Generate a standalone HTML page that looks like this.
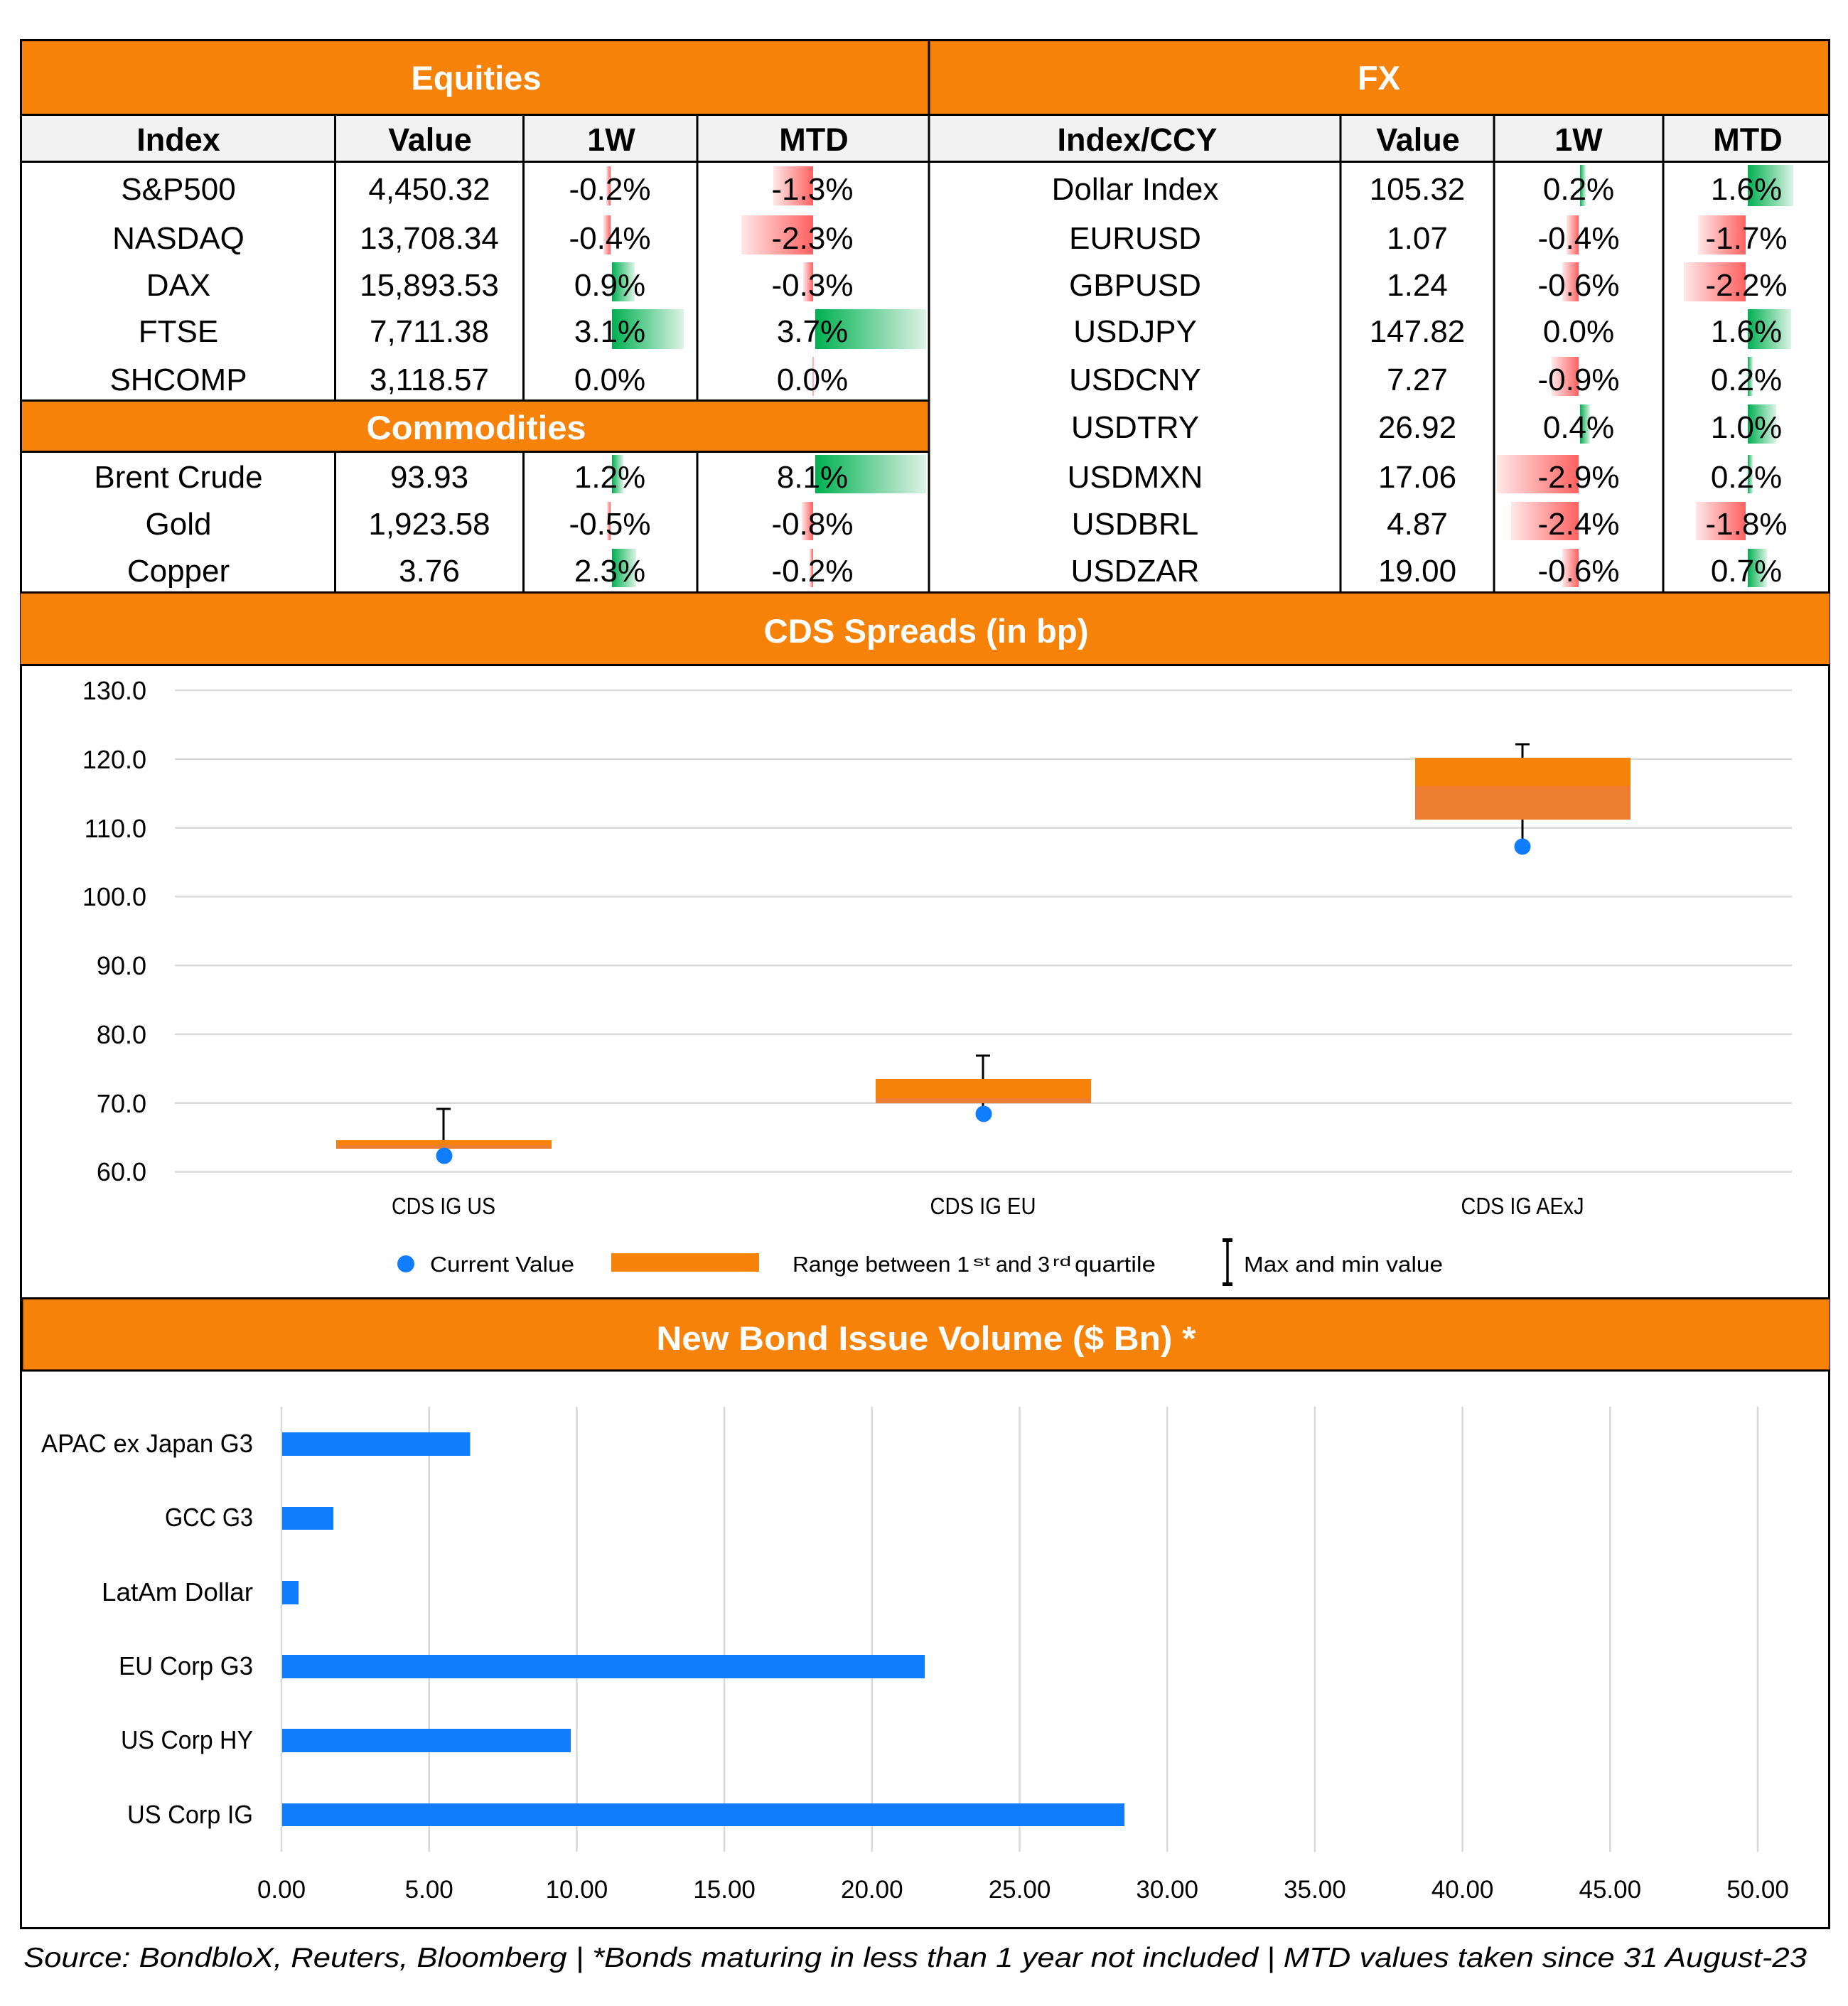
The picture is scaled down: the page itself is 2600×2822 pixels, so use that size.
<!DOCTYPE html>
<html>
<head>
<meta charset="utf-8">
<style>
  html,body{margin:0;padding:0;background:#fff;}
  svg{display:block;}
</style>
</head>
<body>
<svg xmlns="http://www.w3.org/2000/svg" width="2600" height="2822" viewBox="0 0 2600 2822">
  <defs>
    <linearGradient id="gp" x1="0" y1="0" x2="1" y2="0">
      <stop offset="0" stop-color="#00B050"/>
      <stop offset="1" stop-color="#DDF3E6"/>
    </linearGradient>
    <linearGradient id="gn" x1="0" y1="0" x2="1" y2="0">
      <stop offset="0" stop-color="#FFE8E8"/>
      <stop offset="1" stop-color="#FF6161"/>
    </linearGradient>
  </defs>
  <rect x="0" y="0" width="2600" height="2822" fill="#fff"/>

  <g font-family="'Liberation Sans', Arial, sans-serif">

  <!-- ===== TABLE BACKGROUNDS ===== -->
  <rect x="29" y="57" width="2545" height="104" fill="#F7820A"/>
  <rect x="29" y="162" width="2545" height="65" fill="#F2F2F2"/>
  <rect x="29" y="564" width="1278" height="71" fill="#F7820A"/>

  <!-- ===== DATA BARS ===== -->
  <!-- Equities 1W (rows baselines 281,350,416,481,549) -->
  <rect x="853" y="234" width="6" height="55" fill="url(#gn)"/>
  <rect x="849" y="303" width="10" height="55" fill="url(#gn)"/>
  <rect x="861" y="369" width="32" height="55" fill="url(#gp)"/>
  <rect x="861" y="435" width="101" height="56" fill="url(#gp)"/>
  <!-- Equities MTD -->
  <rect x="1088" y="234" width="56" height="55" fill="url(#gn)"/>
  <rect x="1043" y="303" width="101" height="55" fill="url(#gn)"/>
  <rect x="1130" y="369" width="14" height="55" fill="url(#gn)"/>
  <rect x="1147" y="435" width="156" height="56" fill="url(#gp)"/>
  <rect x="1143" y="502" width="2" height="55" fill="#FFB0B0"/>
  <!-- Commodities 1W (baselines 686,752,818) -->
  <rect x="861" y="640" width="16" height="54" fill="url(#gp)"/>
  <rect x="854" y="706" width="5" height="54" fill="url(#gn)"/>
  <rect x="861" y="772" width="34" height="54" fill="url(#gp)"/>
  <!-- Commodities MTD -->
  <rect x="1147" y="640" width="156" height="54" fill="url(#gp)"/>
  <rect x="1128" y="706" width="16" height="54" fill="url(#gn)"/>
  <rect x="1139" y="772" width="5" height="54" fill="url(#gn)"/>
  <!-- FX 1W (baselines 281,350,416,481,549,616,686,752,818) -->
  <rect x="2223" y="232" width="8" height="58" fill="url(#gp)"/>
  <rect x="2204" y="303" width="17" height="55" fill="url(#gn)"/>
  <rect x="2198" y="369" width="23" height="55" fill="url(#gn)"/>
  <rect x="2183" y="502" width="38" height="55" fill="url(#gn)"/>
  <rect x="2223" y="569" width="14" height="55" fill="url(#gp)"/>
  <rect x="2106" y="640" width="115" height="54" fill="url(#gn)"/>
  <rect x="2126" y="706" width="95" height="54" fill="url(#gn)"/>
  <rect x="2198" y="772" width="23" height="54" fill="url(#gn)"/>
  <!-- FX MTD -->
  <rect x="2459" y="232" width="64" height="58" fill="url(#gp)"/>
  <rect x="2389" y="303" width="67" height="55" fill="url(#gn)"/>
  <rect x="2369" y="369" width="87" height="55" fill="url(#gn)"/>
  <rect x="2459" y="435" width="61" height="56" fill="url(#gp)"/>
  <rect x="2459" y="502" width="7" height="55" fill="url(#gp)"/>
  <rect x="2459" y="569" width="40" height="55" fill="url(#gp)"/>
  <rect x="2459" y="640" width="7" height="54" fill="url(#gp)"/>
  <rect x="2386" y="706" width="70" height="54" fill="url(#gn)"/>
  <rect x="2459" y="772" width="27" height="54" fill="url(#gp)"/>

  <!-- ===== TABLE BORDERS ===== -->
  <g stroke="#000" stroke-width="3" fill="none">
    <line x1="28" y1="56.5" x2="2575" y2="56.5"/>
    <line x1="28" y1="161.5" x2="2575" y2="161.5"/>
    <line x1="28" y1="227.5" x2="2575" y2="227.5"/>
    <line x1="28" y1="563.5" x2="1307" y2="563.5"/>
    <line x1="28" y1="635.5" x2="1307" y2="635.5"/>
    <line x1="28" y1="833.5" x2="2575" y2="833.5"/>
    <line x1="29.5" y1="55" x2="29.5" y2="2714"/>
    <line x1="2573.5" y1="55" x2="2573.5" y2="2714"/>
    <line x1="1307" y1="55" x2="1307" y2="835"/>
    <line x1="471.5" y1="161" x2="471.5" y2="563"/>
    <line x1="736.5" y1="161" x2="736.5" y2="563"/>
    <line x1="981" y1="161" x2="981" y2="563"/>
    <line x1="471.5" y1="635" x2="471.5" y2="834"/>
    <line x1="736.5" y1="635" x2="736.5" y2="834"/>
    <line x1="981" y1="635" x2="981" y2="834"/>
    <line x1="1886" y1="161" x2="1886" y2="834"/>
    <line x1="2102" y1="161" x2="2102" y2="834"/>
    <line x1="2340" y1="161" x2="2340" y2="834"/>
  </g>

  <!-- ===== BAND TITLES ===== -->
  <g fill="#fff" font-weight="bold" font-size="47" text-anchor="middle">
    <text x="670" y="126" textLength="183" lengthAdjust="spacingAndGlyphs">Equities</text>
    <text x="1940" y="126">FX</text>
    <text x="670" y="618" textLength="309" lengthAdjust="spacingAndGlyphs">Commodities</text>
  </g>

  <!-- ===== COLUMN HEADERS ===== -->
  <g fill="#000" font-weight="bold" font-size="45" text-anchor="middle">
    <text x="251" y="212">Index</text>
    <text x="605" y="212">Value</text>
    <text x="860" y="212">1W</text>
    <text x="1145" y="212">MTD</text>
    <text x="1600" y="212">Index/CCY</text>
    <text x="1995" y="212">Value</text>
    <text x="2221" y="212">1W</text>
    <text x="2459" y="212">MTD</text>
  </g>

  <!-- ===== DATA TEXT ===== -->
  <g fill="#000" font-size="44" text-anchor="middle">
    <!-- Equities -->
    <text x="251" y="281">S&amp;P500</text>
    <text x="604" y="281">4,450.32</text>
    <text x="858" y="281">-0.2%</text>
    <text x="1143" y="281">-1.3%</text>

    <text x="251" y="350">NASDAQ</text>
    <text x="604" y="350">13,708.34</text>
    <text x="858" y="350">-0.4%</text>
    <text x="1143" y="350">-2.3%</text>

    <text x="251" y="416">DAX</text>
    <text x="604" y="416">15,893.53</text>
    <text x="858" y="416">0.9%</text>
    <text x="1143" y="416">-0.3%</text>

    <text x="251" y="481">FTSE</text>
    <text x="604" y="481">7,711.38</text>
    <text x="858" y="481">3.1%</text>
    <text x="1143" y="481">3.7%</text>

    <text x="251" y="549">SHCOMP</text>
    <text x="604" y="549">3,118.57</text>
    <text x="858" y="549">0.0%</text>
    <text x="1143" y="549">0.0%</text>

    <!-- Commodities -->
    <text x="251" y="686">Brent Crude</text>
    <text x="604" y="686">93.93</text>
    <text x="858" y="686">1.2%</text>
    <text x="1143" y="686">8.1%</text>

    <text x="251" y="752">Gold</text>
    <text x="604" y="752">1,923.58</text>
    <text x="858" y="752">-0.5%</text>
    <text x="1143" y="752">-0.8%</text>

    <text x="251" y="818">Copper</text>
    <text x="604" y="818">3.76</text>
    <text x="858" y="818">2.3%</text>
    <text x="1143" y="818">-0.2%</text>

    <!-- FX -->
    <text x="1597" y="281">Dollar Index</text>
    <text x="1994" y="281">105.32</text>
    <text x="2221" y="281">0.2%</text>
    <text x="2457" y="281">1.6%</text>

    <text x="1597" y="350">EURUSD</text>
    <text x="1994" y="350">1.07</text>
    <text x="2221" y="350">-0.4%</text>
    <text x="2457" y="350">-1.7%</text>

    <text x="1597" y="416">GBPUSD</text>
    <text x="1994" y="416">1.24</text>
    <text x="2221" y="416">-0.6%</text>
    <text x="2457" y="416">-2.2%</text>

    <text x="1597" y="481">USDJPY</text>
    <text x="1994" y="481">147.82</text>
    <text x="2221" y="481">0.0%</text>
    <text x="2457" y="481">1.6%</text>

    <text x="1597" y="549">USDCNY</text>
    <text x="1994" y="549">7.27</text>
    <text x="2221" y="549">-0.9%</text>
    <text x="2457" y="549">0.2%</text>

    <text x="1597" y="616">USDTRY</text>
    <text x="1994" y="616">26.92</text>
    <text x="2221" y="616">0.4%</text>
    <text x="2457" y="616">1.0%</text>

    <text x="1597" y="686">USDMXN</text>
    <text x="1994" y="686">17.06</text>
    <text x="2221" y="686">-2.9%</text>
    <text x="2457" y="686">0.2%</text>

    <text x="1597" y="752">USDBRL</text>
    <text x="1994" y="752">4.87</text>
    <text x="2221" y="752">-2.4%</text>
    <text x="2457" y="752">-1.8%</text>

    <text x="1597" y="818">USDZAR</text>
    <text x="1994" y="818">19.00</text>
    <text x="2221" y="818">-0.6%</text>
    <text x="2457" y="818">0.7%</text>
  </g>

  <!-- ===== CDS SPREADS ===== -->
  <rect x="29" y="835" width="2545" height="99" fill="#F7820A"/>
  <line x1="28" y1="935.5" x2="2575" y2="935.5" stroke="#000" stroke-width="3"/>
  <text x="1303" y="904" fill="#fff" font-weight="bold" font-size="47" text-anchor="middle" textLength="457" lengthAdjust="spacingAndGlyphs">CDS Spreads (in bp)</text>

  <!-- gridlines -->
  <g stroke="#D9D9D9" stroke-width="2.5">
    <line x1="246" y1="971" x2="2521" y2="971"/>
    <line x1="246" y1="1067.8" x2="2521" y2="1067.8"/>
    <line x1="246" y1="1164.6" x2="2521" y2="1164.6"/>
    <line x1="246" y1="1261.3" x2="2521" y2="1261.3"/>
    <line x1="246" y1="1358.1" x2="2521" y2="1358.1"/>
    <line x1="246" y1="1454.9" x2="2521" y2="1454.9"/>
    <line x1="246" y1="1551.7" x2="2521" y2="1551.7"/>
    <line x1="246" y1="1648.5" x2="2521" y2="1648.5"/>
  </g>
  <g fill="#000" font-size="36" text-anchor="end">
    <text x="206" y="984">130.0</text>
    <text x="206" y="1081">120.0</text>
    <text x="206" y="1178">110.0</text>
    <text x="206" y="1274">100.0</text>
    <text x="206" y="1371">90.0</text>
    <text x="206" y="1468">80.0</text>
    <text x="206" y="1565">70.0</text>
    <text x="206" y="1661">60.0</text>
  </g>

  <!-- US -->
  <line x1="624" y1="1560" x2="624" y2="1604" stroke="#000" stroke-width="3"/>
  <line x1="614" y1="1560" x2="634" y2="1560" stroke="#000" stroke-width="3"/>
  <rect x="473" y="1604" width="303" height="7" fill="#F7820A"/>
  <rect x="473" y="1611" width="303" height="5" fill="#ED7D31"/>
  <circle cx="625" cy="1626" r="11.5" fill="#107CFE"/>
  <!-- EU -->
  <line x1="1383" y1="1485" x2="1383" y2="1518" stroke="#000" stroke-width="3"/>
  <line x1="1373" y1="1485" x2="1393" y2="1485" stroke="#000" stroke-width="3"/>
  <line x1="1383" y1="1552" x2="1383" y2="1562" stroke="#000" stroke-width="3"/>
  <rect x="1232" y="1518" width="303" height="27" fill="#F7820A"/>
  <rect x="1232" y="1545" width="303" height="7" fill="#ED7D31"/>
  <circle cx="1384" cy="1567" r="11.5" fill="#107CFE"/>
  <!-- AExJ -->
  <line x1="2142" y1="1047" x2="2142" y2="1066" stroke="#000" stroke-width="3"/>
  <line x1="2132" y1="1047" x2="2152" y2="1047" stroke="#000" stroke-width="3"/>
  <line x1="2142" y1="1153" x2="2142" y2="1185" stroke="#000" stroke-width="3"/>
  <rect x="1991" y="1066" width="303" height="40" fill="#F7820A"/>
  <rect x="1991" y="1106" width="303" height="47" fill="#ED7D31"/>
  <circle cx="2142" cy="1191" r="11.5" fill="#107CFE"/>

  <!-- category labels -->
  <g fill="#000" font-size="33" text-anchor="middle">
    <text x="624" y="1708" textLength="146" lengthAdjust="spacingAndGlyphs">CDS IG US</text>
    <text x="1383" y="1708" textLength="149" lengthAdjust="spacingAndGlyphs">CDS IG EU</text>
    <text x="2142" y="1708" textLength="173" lengthAdjust="spacingAndGlyphs">CDS IG AExJ</text>
  </g>

  <!-- legend -->
  <circle cx="571" cy="1778" r="12" fill="#107CFE"/>
  <text x="605" y="1789" font-size="31" fill="#000" textLength="203" lengthAdjust="spacingAndGlyphs">Current Value</text>
  <rect x="860" y="1763" width="208" height="26" fill="#F7820A"/>
  <g fill="#000">
    <text x="1115" y="1789" font-size="31" textLength="249" lengthAdjust="spacingAndGlyphs">Range between 1</text>
    <text x="1369" y="1781" font-size="19" textLength="24" lengthAdjust="spacingAndGlyphs">st</text>
    <text x="1401" y="1789" font-size="31" textLength="76" lengthAdjust="spacingAndGlyphs">and 3</text>
    <text x="1481" y="1781" font-size="19" textLength="26" lengthAdjust="spacingAndGlyphs">rd</text>
    <text x="1512" y="1789" font-size="31" textLength="114" lengthAdjust="spacingAndGlyphs">quartile</text>
    <text x="1750" y="1789" font-size="31" textLength="280" lengthAdjust="spacingAndGlyphs">Max and min value</text>
  </g>
  <line x1="1727" y1="1743" x2="1727" y2="1808" stroke="#000" stroke-width="3.5"/>
  <rect x="1720" y="1742" width="14" height="5" fill="#000"/>
  <rect x="1720" y="1804" width="14" height="5" fill="#000"/>

  <!-- ===== NEW BOND ISSUE VOLUME ===== -->
  <rect x="31" y="1828" width="2543" height="99" fill="#F7820A"/>
  <line x1="28" y1="1826.5" x2="2575" y2="1826.5" stroke="#000" stroke-width="3"/>
  <line x1="28" y1="1928" x2="2575" y2="1928" stroke="#000" stroke-width="3"/>
  <line x1="31.5" y1="1826" x2="31.5" y2="1928" stroke="#000" stroke-width="2"/>
  <text x="1303" y="1899" fill="#fff" font-weight="bold" font-size="47" text-anchor="middle" textLength="759" lengthAdjust="spacingAndGlyphs">New Bond Issue Volume ($ Bn) *</text>

  <g stroke="#D9D9D9" stroke-width="2.5">
    <line x1="396" y1="1979" x2="396" y2="2605"/>
    <line x1="603.7" y1="1979" x2="603.7" y2="2605"/>
    <line x1="811.4" y1="1979" x2="811.4" y2="2605"/>
    <line x1="1019.1" y1="1979" x2="1019.1" y2="2605"/>
    <line x1="1226.8" y1="1979" x2="1226.8" y2="2605"/>
    <line x1="1434.5" y1="1979" x2="1434.5" y2="2605"/>
    <line x1="1642.2" y1="1979" x2="1642.2" y2="2605"/>
    <line x1="1849.9" y1="1979" x2="1849.9" y2="2605"/>
    <line x1="2057.6" y1="1979" x2="2057.6" y2="2605"/>
    <line x1="2265.3" y1="1979" x2="2265.3" y2="2605"/>
    <line x1="2473" y1="1979" x2="2473" y2="2605"/>
  </g>

  <g fill="#107CFE">
    <rect x="397" y="2015" width="264.5" height="33"/>
    <rect x="397" y="2120" width="72" height="32"/>
    <rect x="397" y="2224" width="23" height="33"/>
    <rect x="397" y="2328" width="904" height="33"/>
    <rect x="397" y="2432" width="406" height="33"/>
    <rect x="397" y="2537" width="1185" height="32"/>
  </g>

  <g fill="#000" font-size="36" text-anchor="end">
    <text x="356" y="2043" textLength="298" lengthAdjust="spacingAndGlyphs">APAC ex Japan G3</text>
    <text x="356" y="2147" textLength="124" lengthAdjust="spacingAndGlyphs">GCC G3</text>
    <text x="356" y="2252" textLength="213" lengthAdjust="spacingAndGlyphs">LatAm Dollar</text>
    <text x="356" y="2356" textLength="189" lengthAdjust="spacingAndGlyphs">EU Corp G3</text>
    <text x="356" y="2460" textLength="186" lengthAdjust="spacingAndGlyphs">US Corp HY</text>
    <text x="356" y="2565" textLength="177" lengthAdjust="spacingAndGlyphs">US Corp IG</text>
  </g>

  <g fill="#000" font-size="35" text-anchor="middle">
    <text x="396" y="2670">0.00</text>
    <text x="603.7" y="2670">5.00</text>
    <text x="811.4" y="2670">10.00</text>
    <text x="1019.1" y="2670">15.00</text>
    <text x="1226.8" y="2670">20.00</text>
    <text x="1434.5" y="2670">25.00</text>
    <text x="1642.2" y="2670">30.00</text>
    <text x="1849.9" y="2670">35.00</text>
    <text x="2057.6" y="2670">40.00</text>
    <text x="2265.3" y="2670">45.00</text>
    <text x="2473" y="2670">50.00</text>
  </g>

  <line x1="28" y1="2712.5" x2="2575" y2="2712.5" stroke="#000" stroke-width="3"/>

  <!-- ===== SOURCE ===== -->
  <text x="33" y="2767" font-size="39" font-style="italic" fill="#000" textLength="2509" lengthAdjust="spacingAndGlyphs">Source: BondbloX, Reuters, Bloomberg | *Bonds maturing in less than 1 year not included | MTD values taken since 31 August-23</text>

  </g>
</svg>
</body>
</html>
